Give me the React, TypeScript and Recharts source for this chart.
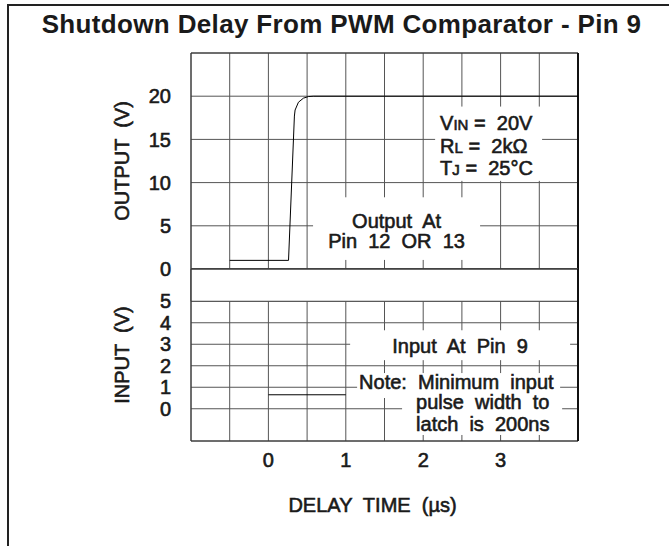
import { CartesianGrid, Line, LineChart, ReferenceArea, ReferenceLine, XAxis, YAxis } from "recharts";

const X_GRID = [-1, -0.5, 0, 0.5, 1, 1.5, 2, 2.5, 3, 3.5, 4];
const X_LABELS = [0, 1, 2, 3];
const OUT_TICKS = [0, 5, 10, 15, 20];
const IN_TICKS = [0, 1, 2, 3, 4, 5];

// output at pin 12/13 (V) vs delay time (us)
const OUT_TIME = [-0.5, 0.26, 0.336, 0.345, 0.388, 0.452, 0.517, 0.58, 4];
const OUT_VOLTS = [1, 1, 17.7, 18.4, 19.3, 19.77, 19.96, 20, 20];

// input at pin 9 (V)
const IN_TIME = [0, 1];
const IN_VOLTS = [0.65, 0.65];

const outputData = OUT_TIME.map((t, i) => ({ t, v: OUT_VOLTS[i] }));
const inputData = IN_TIME.map((t, i) => ({ t, v: IN_VOLTS[i] }));

const W = 669;
const H = 546;
const FONT = "'Liberation Sans', Arial, Helvetica, sans-serif";
const INK = "#1a1a1a";
const GRID = "#555";

const textStyle = { fontFamily: FONT, fill: INK, stroke: INK, strokeWidth: 0.6, whiteSpace: "pre" as const };

type Line_ = { content: React.ReactNode; dx: number | "center"; dy: number };

function NoteBox(props: any) {
  const { x, y, width, height, lines } = props;
  return (
    <g>
      <rect x={x} y={y} width={width} height={height} fill="#fff" />
      {lines.map((l: Line_, i: number) => (
        <text
          key={i}
          x={l.dx === "center" ? x + width / 2 : x + l.dx}
          y={y + l.dy}
          textAnchor={l.dx === "center" ? "middle" : "start"}
          fontSize={20}
          style={textStyle}
        >
          {l.content}
        </text>
      ))}
    </g>
  );
}

const VIN_LINES: Line_[] = [
  { content: <><tspan>V</tspan><tspan fontSize={15}>IN</tspan><tspan>{" =  20V"}</tspan></>, dx: 5, dy: 23 },
  { content: <><tspan>R</tspan><tspan fontSize={15}>L</tspan><tspan>{" =  2kΩ"}</tspan></>, dx: 5, dy: 46 },
  { content: <><tspan>T</tspan><tspan fontSize={15}>J</tspan><tspan>{" =  25°C"}</tspan></>, dx: 5, dy: 68 },
];
const OUT_NOTE: Line_[] = [
  { content: "Output  At", dx: "center", dy: 31 },
  { content: "Pin  12  OR  13", dx: "center", dy: 51 },
];
const IN_NOTE: Line_[] = [{ content: "Input  At  Pin  9", dx: "center", dy: 23 }];
const MIN_NOTE_1: Line_[] = [{ content: "Note:  Minimum  input", dx: 2, dy: 16 }];
const MIN_NOTE_2: Line_[] = [
  { content: "pulse  width  to", dx: 14, dy: 11 },
  { content: "latch  is  200ns", dx: 14, dy: 33 },
];

function AxisTitle(props: any) {
  const { viewBox, caption } = props;
  const cx = viewBox.x + viewBox.width - 69;
  const cy = viewBox.y + viewBox.height / 2;
  return (
    <text
      x={cx}
      y={cy}
      transform={`rotate(-90 ${cx} ${cy})`}
      textAnchor="middle"
      dominantBaseline="central"
      fontSize={20}
      style={textStyle}
    >
      {caption}
    </text>
  );
}

function XTitle(props: any) {
  const { viewBox } = props;
  return (
    <text
      x={viewBox.x + viewBox.width / 2 - 12}
      y={viewBox.y + 71}
      textAnchor="middle"
      fontSize={20}
      style={textStyle}
    >
      {"DELAY  TIME  (µs)"}
    </text>
  );
}

const tickStyle = { fontSize: 20, fontFamily: FONT, fill: INK, stroke: INK, strokeWidth: 0.6 };
const xTickFormat = (v: number) => (X_LABELS.includes(v) ? String(v) : "");

export default function App() {
  return (
    <div style={{ position: "absolute", left: 0, top: 0, width: W, height: H, overflow: "hidden", background: "#fff" }}>
      <div
        style={{
          position: "absolute",
          left: 7,
          top: 4,
          width: W + 20,
          height: H + 20,
          borderTop: "2px solid #222",
          borderLeft: "2px solid #222",
        }}
      />
      <div
        style={{
          position: "absolute",
          left: 0,
          top: 11,
          width: 683,
          textAlign: "center",
          fontFamily: FONT,
          fontWeight: 700,
          fontSize: 26,
          letterSpacing: 0.35,
          lineHeight: "26px",
          color: INK,
        }}
      >
        Shutdown Delay From PWM Comparator - Pin 9
      </div>

      {/* upper panel: output */}
      <div style={{ position: "absolute", left: 0, top: 0 }}>
        <LineChart width={W} height={H} data={outputData} margin={{ top: 53, right: 91, bottom: 277, left: 0 }}>
          <CartesianGrid stroke={GRID} />
          <XAxis type="number" dataKey="t" domain={[-1, 4]} ticks={X_GRID} interval={0} hide />
          <YAxis
            type="number"
            domain={[0, 25]}
            ticks={OUT_TICKS}
            interval={0}
            width={191}
            axisLine={false}
            tickLine={false}
            tickSize={0}
            tickMargin={20}
            tick={tickStyle}
            label={(p: any) => <AxisTitle {...p} caption={"OUTPUT  (V)"} />}
          />
          <ReferenceArea x1={2.154} x2={3.536} y1={10.2} y2={18.8} shape={(p: any) => <NoteBox {...p} lines={VIN_LINES} />} />
          <ReferenceArea x1={0.577} x2={2.735} y1={1.05} y2={8.3} shape={(p: any) => <NoteBox {...p} lines={OUT_NOTE} />} />
          <ReferenceArea x1={-1} x2={4} y1={0} y2={25} fill="none" stroke="#333" />
          <ReferenceLine x={4} stroke="#111" strokeWidth={2} />
          <Line type="linear" dataKey="v" stroke="#000" strokeWidth={1} dot={false} isAnimationActive={false} />
        </LineChart>
      </div>

      {/* lower panel: input */}
      <div style={{ position: "absolute", left: 0, top: 0 }}>
        <LineChart width={W} height={H} data={inputData} margin={{ top: 269, right: 91, bottom: 75, left: 0 }}>
          <CartesianGrid stroke={GRID} />
          <XAxis
            type="number"
            dataKey="t"
            domain={[-1, 4]}
            ticks={X_GRID}
            interval={0}
            height={30}
            axisLine={false}
            tickLine={false}
            tickSize={0}
            tickMargin={12}
            tick={tickStyle}
            tickFormatter={xTickFormat}
            label={(p: any) => <XTitle {...p} />}
          />
          <YAxis
            type="number"
            domain={[-1.5, 6.5]}
            ticks={IN_TICKS}
            interval={0}
            width={191}
            axisLine={false}
            tickLine={false}
            tickSize={0}
            tickMargin={20}
            tick={tickStyle}
            label={(p: any) => <AxisTitle {...p} caption={"INPUT  (V)"} />}
          />
          <ReferenceArea x1={-1} x2={4} y1={5} y2={6.5} fill="#fff" fillOpacity={1} stroke="#444" />
          <ReferenceArea x1={1.056} x2={3.898} y1={2.26} y2={3.65} shape={(p: any) => <NoteBox {...p} lines={IN_NOTE} />} />
          <ReferenceArea x1={1.146} x2={3.769} y1={0.5} y2={1.66} shape={(p: any) => <NoteBox {...p} lines={MIN_NOTE_1} />} />
          <ReferenceArea x1={1.727} x2={3.795} y1={-1.22} y2={0.5} shape={(p: any) => <NoteBox {...p} lines={MIN_NOTE_2} />} />
          <ReferenceArea x1={-1} x2={4} y1={-1.5} y2={6.5} fill="none" stroke="#333" />
          <ReferenceLine x={4} stroke="#111" strokeWidth={2} />
          <Line type="linear" dataKey="v" stroke="#000" strokeWidth={1} dot={false} isAnimationActive={false} />
        </LineChart>
      </div>
    </div>
  );
}
